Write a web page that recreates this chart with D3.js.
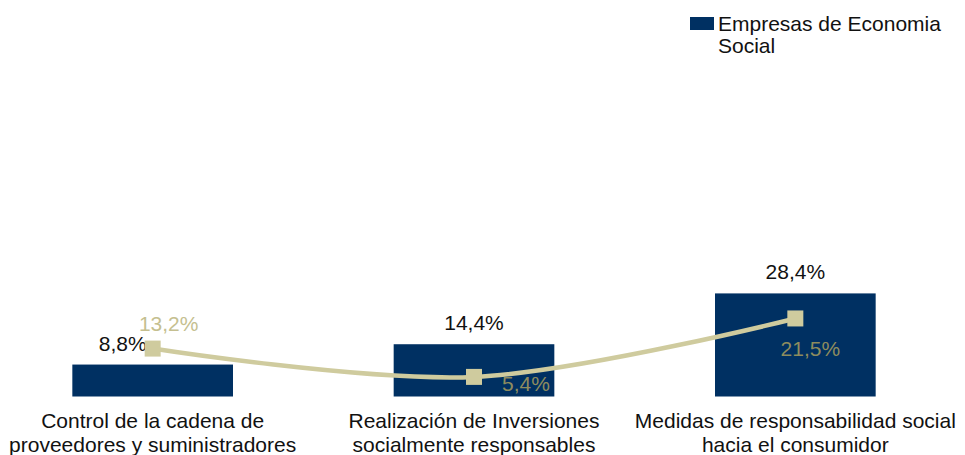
<!DOCTYPE html>
<html>
<head>
<meta charset="utf-8">
<script src="https://cdn.jsdelivr.net/npm/d3@7"></script>
<style>
  body { margin: 0; background: #fff; }
  svg text { font-family: "Liberation Sans", Arial, sans-serif; }
</style>
</head>
<body>
<div id="chart"></div>
<script>
// datos
const categorias = [
  ["Control de la cadena de", "proveedores y suministradores"],
  ["Realización de Inversiones", "socialmente responsables"],
  ["Medidas de responsabilidad social", "hacia el consumidor"]
];
const serieBarras = [8.8, 14.4, 28.4];   // Empresas de Economia Social
const serieLinea = [13.2, 5.4, 21.5];
const nombreBarras = ["Empresas de Economia", "Social"];

const width = 965, height = 455;
const fs = 21;
const fmt = v => d3.format(".1f")(v).replace(".", ",") + "%";

const svg = d3.select("#chart").append("svg")
  .attr("width", width)
  .attr("height", height);

const keys = categorias.map((c, i) => i);

const x = d3.scaleBand()
  .domain(keys)
  .range([-8, 956])
  .paddingInner(0.5)
  .paddingOuter(0.25);

const y = d3.scaleLinear()
  .domain([0, 100])
  .range([396.5, 33.5]);

const cx = i => x(i) + x.bandwidth() / 2;

// barras
svg.selectAll("rect.bar")
  .data(serieBarras)
  .join("rect")
  .attr("class", "bar")
  .attr("x", (d, i) => x(i))
  .attr("y", d => y(d))
  .attr("width", x.bandwidth())
  .attr("height", d => y(0) - y(d))
  .attr("fill", "#003062");

// etiquetas de barras (ajustes a mano como en el original)
const nudgeBarras = [[-30, 0], [0, 0], [0, 0]];
svg.selectAll("text.lbar")
  .data(serieBarras)
  .join("text")
  .attr("class", "lbar")
  .attr("x", (d, i) => cx(i) + nudgeBarras[i][0])
  .attr("y", d => y(d) - 14)
  .attr("text-anchor", "middle")
  .attr("font-size", fs)
  .attr("fill", "#111")
  .text(d => fmt(d));

// línea suavizada
const line = d3.line()
  .x((d, i) => cx(i))
  .y(d => y(d))
  .curve(d3.curveCatmullRom.alpha(0.5));

svg.append("path")
  .datum(serieLinea)
  .attr("d", line)
  .attr("fill", "none")
  .attr("stroke", "#cfcb9e")
  .attr("stroke-width", 4.5);

svg.selectAll("rect.mk")
  .data(serieLinea)
  .join("rect")
  .attr("class", "mk")
  .attr("x", (d, i) => cx(i) - 8)
  .attr("y", d => y(d) - 8)
  .attr("width", 16)
  .attr("height", 16)
  .attr("fill", "#cfcb9e");

// etiquetas de la línea
const nudgeLinea = [[16, -18], [52, 14], [15, 38]];
svg.selectAll("text.lline")
  .data(serieLinea)
  .join("text")
  .attr("class", "lline")
  .attr("x", (d, i) => cx(i) + nudgeLinea[i][0])
  .attr("y", (d, i) => y(d) + nudgeLinea[i][1])
  .attr("text-anchor", "middle")
  .attr("font-size", fs)
  .attr("fill", (d, i) => i === 0 ? "#c5bf90" : "#8e8c5e")
  .text(d => fmt(d));

// categorías
const cat = svg.selectAll("text.cat")
  .data(categorias)
  .join("text")
  .attr("class", "cat")
  .attr("text-anchor", "middle")
  .attr("font-size", fs)
  .attr("fill", "#111");
cat.selectAll("tspan")
  .data((d, i) => d.map(t => ({t, i})))
  .join("tspan")
  .attr("x", d => cx(d.i))
  .attr("y", (d, j) => 428 + j * 24)
  .text(d => d.t);

// leyenda
const leg = svg.append("g").attr("transform", "translate(690,17)");
leg.append("rect")
  .attr("width", 24)
  .attr("height", 13)
  .attr("fill", "#003062");
leg.append("text")
  .attr("font-size", fs)
  .attr("fill", "#111")
  .selectAll("tspan")
  .data(nombreBarras)
  .join("tspan")
  .attr("x", 28)
  .attr("y", (d, j) => 14 + j * 22)
  .text(d => d);
</script>
</body>
</html>
